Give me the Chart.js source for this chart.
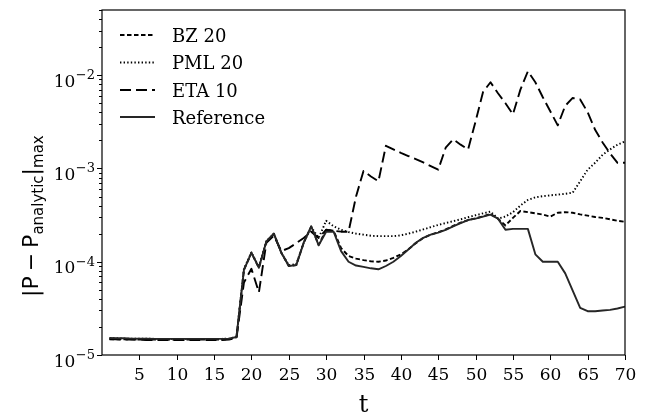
<!DOCTYPE html>
<html>
<head>
<meta charset="utf-8">
<script src="https://cdn.jsdelivr.net/npm/chart.js@4.4.1/dist/chart.umd.min.js"></script>
<style>
  html, body { margin: 0; padding: 0; background: #fff; }
  canvas { display: block; }
</style>
</head>
<body>
<canvas id="chart" width="646" height="415"></canvas>
<script>
// Time steps
const times = [
  1, 2, 3, 4, 5, 6, 7, 8, 9, 10,
  11, 12, 13, 14, 15, 16, 17, 18, 19, 20,
  21, 22, 23, 24, 25, 26, 27, 28, 29, 30,
  31, 32, 33, 34, 35, 36, 37, 38, 39, 40,
  41, 42, 43, 44, 45, 46, 47, 48, 49, 50,
  51, 52, 53, 54, 55, 56, 57, 58, 59, 60,
  61, 62, 63, 64, 65, 66, 67, 68, 69, 70
];

// Maximum pressure error per boundary treatment
const bz20 = [
  1.48e-5, 1.47e-5, 1.47e-5, 1.47e-5, 1.46e-5, 1.46e-5, 1.46e-5, 1.46e-5, 1.46e-5, 1.46e-5,
  1.46e-5, 1.46e-5, 1.46e-5, 1.46e-5, 1.46e-5, 1.46e-5, 1.48e-5, 1.55e-5, 8.2e-5, 1.24e-4,
  8.6e-5, 1.64e-4, 2.0e-4, 1.25e-4, 9.0e-5, 9.2e-5, 1.6e-4, 2.38e-4, 1.52e-4, 2.2e-4,
  2.15e-4, 1.4e-4, 1.15e-4, 1.08e-4, 1.04e-4, 1.01e-4, 1.0e-4, 1.03e-4, 1.1e-4, 1.2e-4,
  1.36e-4, 1.58e-4, 1.8e-4, 1.95e-4, 2.07e-4, 2.22e-4, 2.42e-4, 2.62e-4, 2.8e-4, 2.92e-4,
  3.07e-4, 3.25e-4, 2.9e-4, 2.45e-4, 2.95e-4, 3.5e-4, 3.4e-4, 3.3e-4, 3.2e-4, 3.05e-4,
  3.35e-4, 3.4e-4, 3.35e-4, 3.22e-4, 3.12e-4, 3.02e-4, 2.95e-4, 2.85e-4, 2.75e-4, 2.68e-4
];
const pml20 = [
  1.51e-5, 1.51e-5, 1.50e-5, 1.50e-5, 1.50e-5, 1.50e-5, 1.49e-5, 1.49e-5, 1.49e-5, 1.49e-5,
  1.49e-5, 1.49e-5, 1.49e-5, 1.49e-5, 1.49e-5, 1.49e-5, 1.50e-5, 1.57e-5, 8.4e-5, 1.26e-4,
  8.8e-5, 1.66e-4, 2.0e-4, 1.25e-4, 9.2e-5, 9.4e-5, 1.6e-4, 2.35e-4, 1.8e-4, 2.75e-4,
  2.4e-4, 2.2e-4, 2.08e-4, 2.0e-4, 1.95e-4, 1.9e-4, 1.88e-4, 1.88e-4, 1.88e-4, 1.92e-4,
  2.0e-4, 2.1e-4, 2.22e-4, 2.35e-4, 2.48e-4, 2.6e-4, 2.72e-4, 2.85e-4, 3.0e-4, 3.15e-4,
  3.3e-4, 3.45e-4, 2.9e-4, 3.05e-4, 3.4e-4, 4.0e-4, 4.6e-4, 4.9e-4, 5.05e-4, 5.15e-4,
  5.25e-4, 5.35e-4, 5.5e-4, 7.3e-4, 9.7e-4, 1.15e-3, 1.4e-3, 1.6e-3, 1.8e-3, 1.95e-3
];
const eta10 = [
  1.47e-5, 1.47e-5, 1.46e-5, 1.46e-5, 1.46e-5, 1.45e-5, 1.45e-5, 1.45e-5, 1.45e-5, 1.45e-5,
  1.45e-5, 1.45e-5, 1.45e-5, 1.45e-5, 1.45e-5, 1.45e-5, 1.46e-5, 1.52e-5, 6.0e-5, 8.4e-5,
  4.7e-5, 1.6e-4, 1.9e-4, 1.3e-4, 1.4e-4, 1.58e-4, 1.8e-4, 2.1e-4, 1.8e-4, 2.2e-4,
  2.15e-4, 2.1e-4, 2.1e-4, 5.0e-4, 9.4e-4, 8.2e-4, 7.3e-4, 1.75e-3, 1.6e-3, 1.47e-3,
  1.36e-3, 1.26e-3, 1.16e-3, 1.06e-3, 9.7e-4, 1.67e-3, 2.05e-3, 1.8e-3, 1.6e-3, 3.2e-3,
  6.6e-3, 8.4e-3, 6.4e-3, 5.0e-3, 3.8e-3, 7.0e-3, 1.1e-2, 8.4e-3, 5.8e-3, 4.1e-3,
  2.9e-3, 4.7e-3, 5.7e-3, 5.5e-3, 4.0e-3, 2.6e-3, 1.9e-3, 1.45e-3, 1.15e-3, 1.15e-3
];
const reference = [
  1.52e-5, 1.51e-5, 1.51e-5, 1.50e-5, 1.50e-5, 1.50e-5, 1.49e-5, 1.49e-5, 1.49e-5, 1.49e-5,
  1.49e-5, 1.49e-5, 1.49e-5, 1.49e-5, 1.49e-5, 1.49e-5, 1.50e-5, 1.56e-5, 8.2e-5, 1.25e-4,
  8.6e-5, 1.65e-4, 2.0e-4, 1.25e-4, 9.0e-5, 9.2e-5, 1.6e-4, 2.4e-4, 1.5e-4, 2.1e-4,
  2.1e-4, 1.3e-4, 1.0e-4, 9.1e-5, 8.8e-5, 8.5e-5, 8.3e-5, 9.0e-5, 1.0e-4, 1.15e-4,
  1.35e-4, 1.6e-4, 1.8e-4, 1.95e-4, 2.05e-4, 2.2e-4, 2.4e-4, 2.6e-4, 2.8e-4, 2.9e-4,
  3.05e-4, 3.2e-4, 2.9e-4, 2.2e-4, 2.25e-4, 2.25e-4, 2.25e-4, 1.2e-4, 1.0e-4, 1.0e-4,
  1.0e-4, 7.5e-5, 4.9e-5, 3.2e-5, 2.95e-5, 2.95e-5, 3.0e-5, 3.05e-5, 3.15e-5, 3.3e-5
];

// Axis ticks
const xTickValues = [5, 10, 15, 20, 25, 30, 35, 40, 45, 50, 55, 60, 65, 70];
const yDecadeExponents = [-5, -4, -3, -2];
const seriesLabels = ['BZ 20', 'PML 20', 'ETA 10', 'Reference'];

const SERIF = '"DejaVu Serif", "Liberation Serif", serif';
const SANS = '"DejaVu Sans", "Liberation Sans", sans-serif';

const styles = [
  { color: '#000', dash: [4.5, 2.5], width: 1.9 },
  { color: '#000', dash: [1.4, 2.2], width: 1.9 },
  { color: '#000', dash: [11, 5], width: 1.9 },
  { color: '#262626', dash: [], width: 1.9 }
];
const seriesValues = [bz20, pml20, eta10, reference];

const datasets = seriesValues.map((vals, i) => ({
  label: seriesLabels[i],
  data: times.map((tv, j) => ({ x: tv, y: vals[j] })),
  borderColor: styles[i].color,
  borderWidth: styles[i].width,
  borderDash: styles[i].dash,
  borderCapStyle: 'butt',
  borderJoinStyle: 'round',
  pointRadius: 0,
  pointHoverRadius: 0,
  fill: false,
  tension: 0,
  order: 3 - i
}));

// Frame, ticks, labels and legend drawn on top of the plotted lines
const decorations = {
  id: 'decorations',
  afterDraw(chart) {
    const { ctx, chartArea: a, scales } = chart;
    const xs = scales.x, ys = scales.y;
    ctx.save();

    // axes box
    ctx.strokeStyle = '#000';
    ctx.lineWidth = 1.2;
    ctx.setLineDash([]);
    ctx.strokeRect(a.left, a.top, a.right - a.left, a.bottom - a.top);

    // x ticks
    ctx.lineWidth = 1;
    ctx.fillStyle = '#000';
    ctx.font = '17px ' + SERIF;
    ctx.textAlign = 'center';
    ctx.textBaseline = 'alphabetic';
    xTickValues.forEach(v => {
      const px = Math.round(xs.getPixelForValue(v)) + 0.5;
      ctx.beginPath();
      ctx.moveTo(px, a.bottom);
      ctx.lineTo(px, a.bottom + 5);
      ctx.stroke();
      ctx.fillText(String(v), px, a.bottom + 25);
    });

    // y major / minor ticks and labels
    yDecadeExponents.forEach(k => {
      const base = Math.pow(10, k);
      for (let m = 1; m <= 9; m++) {
        const v = base * m;
        if (v < ys.min || v > ys.max) continue;
        const py = Math.round(ys.getPixelForValue(v)) + 0.5;
        ctx.beginPath();
        ctx.moveTo(a.left - (m === 1 ? 5 : 3), py);
        ctx.lineTo(a.left, py);
        ctx.stroke();
      }
      const py = ys.getPixelForValue(base);
      const sup = '\u2212' + Math.abs(k);
      ctx.font = '13px ' + SERIF;
      const supW = ctx.measureText(sup).width;
      const right = a.left - 7;
      ctx.textAlign = 'left';
      ctx.fillText(sup, right - supW, py + 4);
      ctx.font = '17px ' + SERIF;
      ctx.textAlign = 'right';
      ctx.fillText('10', right - supW - 0.5, py + 11.5);
    });

    // x axis title
    ctx.font = '24px ' + SERIF;
    ctx.textAlign = 'center';
    ctx.fillText('t', (a.left + a.right) / 2, 412);

    // y axis title, rotated
    ctx.save();
    ctx.translate(38, 297);
    ctx.rotate(-Math.PI / 2);
    ctx.textAlign = 'left';
    let u = 0;
    ctx.font = '22px ' + SANS;
    ctx.fillText('|P', u, 0);
    u += ctx.measureText('|P').width + 5;
    ctx.fillText('\u2212', u, 0);
    u += ctx.measureText('\u2212').width + 5;
    ctx.fillText('P', u, 0);
    u += ctx.measureText('P').width;
    ctx.font = '15px ' + SANS;
    ctx.fillText('analytic', u, 4.5);
    u += ctx.measureText('analytic').width;
    ctx.font = '22px ' + SANS;
    ctx.fillText('|', u, 0);
    u += ctx.measureText('|').width;
    ctx.font = '15px ' + SANS;
    ctx.fillText('max', u, 4.5);
    ctx.restore();

    // legend
    const rows = [35, 62.5, 90, 117];
    ctx.font = '18px ' + SERIF;
    ctx.textAlign = 'left';
    seriesLabels.forEach((name, i) => {
      const st = styles[i];
      ctx.strokeStyle = st.color;
      ctx.lineWidth = st.width;
      ctx.setLineDash(st.dash);
      ctx.beginPath();
      ctx.moveTo(120, rows[i]);
      ctx.lineTo(155, rows[i]);
      ctx.stroke();
      ctx.fillStyle = '#000';
      ctx.fillText(name, 172, rows[i] + 6.5);
    });
    ctx.restore();
  }
};

new Chart(document.getElementById('chart'), {
  type: 'line',
  data: { datasets },
  options: {
    responsive: false,
    animation: false,
    devicePixelRatio: 1,
    layout: { padding: { left: 102, right: 21, top: 10, bottom: 60 } },
    plugins: { legend: { display: false }, tooltip: { enabled: false } },
    scales: {
      x: { type: 'linear', min: 0, max: 70, display: false },
      y: { type: 'logarithmic', min: 1e-5, max: 0.05, display: false }
    }
  },
  plugins: [decorations]
});
</script>
</body>
</html>
